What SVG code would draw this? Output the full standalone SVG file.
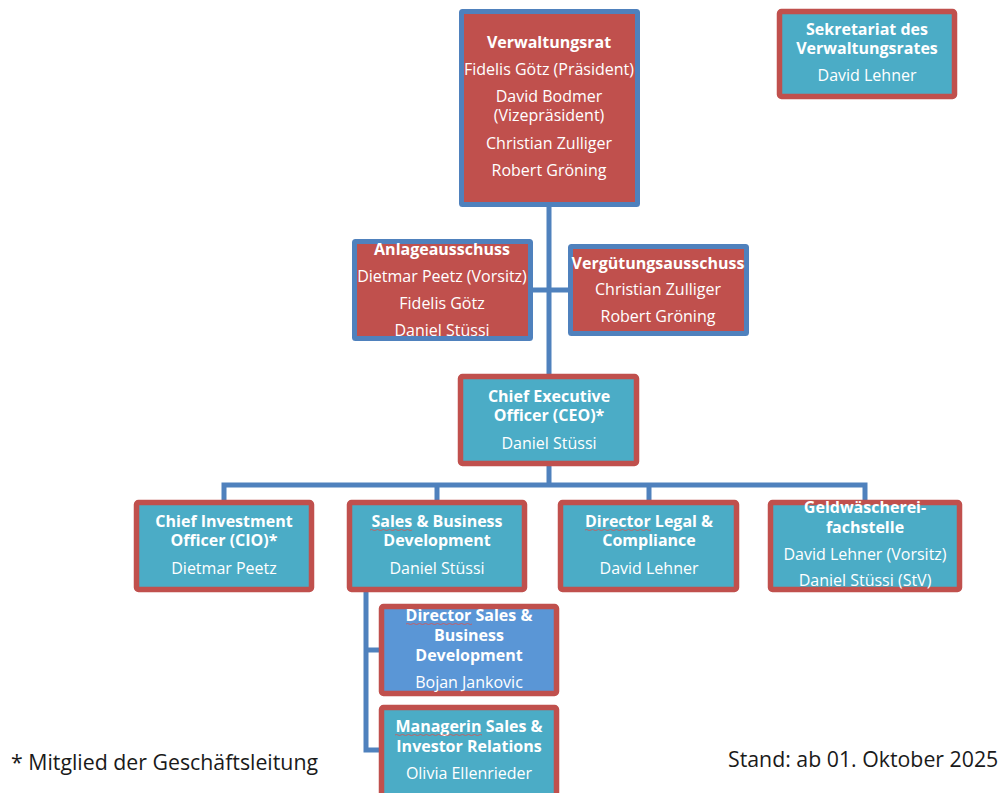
<svg xmlns="http://www.w3.org/2000/svg" width="999" height="793" viewBox="0 0 999 793">
<style>
.bg{fill:#ffffff}
.rb{fill:#C0504D;stroke:#4F81BD;stroke-width:5}
.tr{fill:#4BACC6;stroke:#C0504D;stroke-width:5.5}
.br{fill:#5A96D6;stroke:#C0504D;stroke-width:5.5}
.con{stroke:#4F81BD;stroke-width:5;fill:none;stroke-linecap:butt}
text{font-family:"Open Sans","Liberation Sans",sans-serif;fill:#ffffff;text-anchor:middle;font-size:16px}
.b{font-weight:bold}
.foot{fill:#1a1a1a;font-size:21.3px;text-anchor:start}
.sq{stroke:#d9534f;stroke-width:0.8;fill:none}
</style>
<rect class="bg" x="0" y="0" width="999" height="793"/>
<g id="connectors">
<path class="con" d="M549 205 V376"/>
<path class="con" d="M531 290 H571"/>
<path class="con" d="M549 464 V485"/>
<path class="con" d="M224 502 V485 H865 V502"/>
<path class="con" d="M437 485 V502"/>
<path class="con" d="M649 485 V502"/>
<path class="con" d="M366 590 V750 H382"/>
<path class="con" d="M366 650 H382"/>
</g>
<g id="verwaltungsrat">
<rect class="rb" x="461.5" y="11.5" width="176" height="193" rx="1"/>
<text class="b" x="549" y="48">Verwaltungsrat</text>
<text x="549" y="75">Fidelis Götz (Präsident)</text>
<text x="549" y="102">David Bodmer</text>
<text x="549" y="121">(Vizepräsident)</text>
<text x="549" y="149">Christian Zulliger</text>
<text x="549" y="176">Robert Gröning</text>
</g>
<g id="sekretariat">
<rect class="tr" x="779.5" y="11.5" width="175" height="85" rx="2"/>
<text class="b" x="867" y="35">Sekretariat des</text>
<text class="b" x="867" y="54">Verwaltungsrates</text>
<text x="867" y="81">David Lehner</text>
</g>
<g id="anlageausschuss">
<rect class="rb" x="354.5" y="241.5" width="176" height="97" rx="1"/>
<text class="b" x="442" y="255">Anlageausschuss</text>
<text x="442" y="282">Dietmar Peetz (Vorsitz)</text>
<text x="442" y="309">Fidelis Götz</text>
<text x="442" y="336">Daniel Stüssi</text>
</g>
<g id="verguetungsausschuss">
<rect class="rb" x="570.5" y="246.5" width="176" height="87" rx="1"/>
<text class="b" x="658" y="269">Vergütungsausschuss</text>
<text x="658" y="295">Christian Zulliger</text>
<text x="658" y="322">Robert Gröning</text>
</g>
<g id="ceo">
<rect class="tr" x="460.5" y="376.5" width="176" height="87" rx="2"/>
<text class="b" x="549" y="402">Chief Executive</text>
<text class="b" x="549" y="421">Officer (CEO)*</text>
<text x="549" y="449">Daniel Stüssi</text>
</g>
<g id="cio">
<rect class="tr" x="136.5" y="502.5" width="175" height="87" rx="2"/>
<text class="b" x="224" y="527">Chief Investment</text>
<text class="b" x="224" y="546">Officer (CIO)*</text>
<text x="224" y="574">Dietmar Peetz</text>
</g>
<g id="sales">
<rect class="tr" x="349.5" y="502.5" width="175" height="87" rx="2"/>
<text class="b" x="437" y="527">Sales &amp; Business</text>
<text class="b" x="437" y="546">Development</text>
<text x="437" y="574">Daniel Stüssi</text>
<path class="sq" d="M370 530 q1.5 -1 3 0 t3 0 t3 0 t3 0 t3 0 t3 0 t3 0 t3 0 t3 0 t3 0 t3 0 t3 0 t3 0 t3 0"/>
</g>
<g id="legal">
<rect class="tr" x="560.5" y="502.5" width="176" height="87" rx="2"/>
<text class="b" x="649" y="527">Director Legal &amp;</text>
<text class="b" x="649" y="546">Compliance</text>
<text x="649" y="574">David Lehner</text>
<path class="sq" d="M585 530 q1.5 -1 3 0 t3 0 t3 0 t3 0 t3 0 t3 0 t3 0 t3 0 t3 0 t3 0 t3 0 t3 0 t3 0 t3 0 t3 0 t3 0 t3 0 t3 0 t3 0 t3 0 t3 0 t3 0"/>
</g>
<g id="geldwaescherei">
<rect class="tr" x="770.5" y="502.5" width="189" height="87" rx="2"/>
<text class="b" x="865" y="513">Geldwäscherei-</text>
<text class="b" x="865" y="533">fachstelle</text>
<text x="865" y="560">David Lehner (Vorsitz)</text>
<text x="865" y="586">Daniel Stüssi (StV)</text>
</g>
<g id="director-sales">
<rect class="br" x="381.5" y="606.5" width="175" height="87" rx="2"/>
<text class="b" x="469" y="621">Director Sales &amp;</text>
<text class="b" x="469" y="641">Business</text>
<text class="b" x="469" y="661">Development</text>
<text x="469" y="688">Bojan Jankovic</text>
<path class="sq" d="M406 624 q1.5 -1 3 0 t3 0 t3 0 t3 0 t3 0 t3 0 t3 0 t3 0 t3 0 t3 0 t3 0 t3 0 t3 0 t3 0 t3 0 t3 0 t3 0 t3 0 t3 0 t3 0 t3 0 t3 0"/>
</g>
<g id="managerin">
<rect class="tr" x="381.5" y="707.5" width="175" height="100" rx="2"/>
<text class="b" x="469" y="732">Managerin Sales &amp;</text>
<text class="b" x="469" y="752">Investor Relations</text>
<text x="469" y="779">Olivia Ellenrieder</text>
<path class="sq" d="M395 735 q1.5 -1 3 0 t3 0 t3 0 t3 0 t3 0 t3 0 t3 0 t3 0 t3 0 t3 0 t3 0 t3 0 t3 0 t3 0 t3 0 t3 0 t3 0 t3 0 t3 0 t3 0 t3 0 t3 0 t3 0 t3 0 t3 0 t3 0 t3 0 t3 0 t3 0"/>
</g>
<g id="footer">
<text class="foot" x="11" y="770">* Mitglied der Geschäftsleitung</text>
<text class="foot" x="728" y="767">Stand: ab 01. Oktober 2025</text>
</g>
</svg>
